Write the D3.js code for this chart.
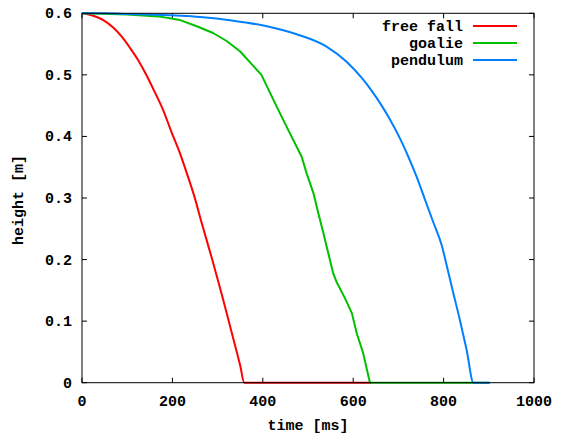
<!DOCTYPE html>
<html><head><meta charset="utf-8">
<script src="https://cdn.jsdelivr.net/npm/d3@7/dist/d3.min.js"></script>
<style>
html,body{margin:0;padding:0;background:#fff;}
text{font-family:"Liberation Mono","DejaVu Sans Mono",monospace;font-weight:bold;font-size:15px;fill:#000;}
</style></head>
<body><svg id="c" width="569" height="435"></svg>
<script>
const seriesNames = ["free fall", "goalie", "pendulum"];
const seriesColors = ["#ff0000", "#00c000", "#0080ff"];
const freeFallT = [0,10,25,47,69,88,106,125,143,161,180,198,217,232,250,265,287,309,331,350,359,640];
const freeFallH = [0.6,0.599,0.596,0.589,0.577,0.562,0.544,0.523,0.499,0.472,0.442,0.407,0.372,0.340,0.299,0.259,0.203,0.144,0.082,0.028,0,0];
const goalieT = [0,100,169,217,254,290,320,350,397,431,460,486,497,512,523,534,545,556,563,582,597,608,622,637,900];
const goalieH = [0.6,0.598,0.595,0.589,0.579,0.568,0.555,0.538,0.500,0.448,0.405,0.367,0.340,0.308,0.275,0.243,0.210,0.177,0.164,0.137,0.113,0.080,0.048,0,0];
const pendulumT = [0,50,100,150,220,261,335,409,475,541,586,619,641,663,681,704,722,740,759,777,796,807,821,836,851,866,903];
const pendulumH = [0.6,0.6,0.599,0.598,0.596,0.594,0.588,0.579,0.566,0.546,0.521,0.495,0.474,0.450,0.428,0.396,0.367,0.335,0.297,0.261,0.223,0.190,0.147,0.102,0.053,0,0];
const xTicks = [0,200,400,600,800,1000];
const yTicks = [0,0.1,0.2,0.3,0.4,0.5,0.6];
const xTickLabels = ["0","200","400","600","800","1000"];
const yTickLabels = ["0","0.1","0.2","0.3","0.4","0.5","0.6"];

const svg = d3.select("#c");
const L=82, R=534, T=13.3, B=382.7;
const x = d3.scaleLinear().domain([0,1000]).range([L,R]);
const y = d3.scaleLinear().domain([0,0.6]).range([B,T]);

const series = [
  freeFallT.map((t,i)=>[t,freeFallH[i]]),
  goalieT.map((t,i)=>[t,goalieH[i]]),
  pendulumT.map((t,i)=>[t,pendulumH[i]])
];
const curves = [d3.curveMonotoneX, d3.curveLinear, d3.curveMonotoneX];

// ticks on all sides (inward)
const tickLen = 5;
const g = svg.append("g");
xTicks.forEach(v=>{
  g.append("line").attr("x1",x(v)).attr("x2",x(v)).attr("y1",B).attr("y2",B-tickLen).attr("stroke","#000");
  g.append("line").attr("x1",x(v)).attr("x2",x(v)).attr("y1",T).attr("y2",T+tickLen).attr("stroke","#000");
});
yTicks.forEach(v=>{
  g.append("line").attr("x1",L).attr("x2",L+tickLen).attr("y1",y(v)).attr("y2",y(v)).attr("stroke","#000");
  g.append("line").attr("x1",R).attr("x2",R-tickLen).attr("y1",y(v)).attr("y2",y(v)).attr("stroke","#000");
});
// tick labels
xTicks.forEach((v,i)=>{
  svg.append("text").attr("x",x(v)).attr("y",406).attr("text-anchor","middle").text(xTickLabels[i]);
});
yTicks.forEach((v,i)=>{
  svg.append("text").attr("x",72).attr("y",y(v)+5).attr("text-anchor","end").text(yTickLabels[i]);
});

// lines
series.forEach((s,i)=>{
  const line = d3.line().x(d=>x(d[0])).y(d=>y(d[1])).curve(curves[i]);
  svg.append("path").datum(s).attr("d",line).attr("fill","none")
    .attr("stroke",seriesColors[i]).attr("stroke-width",2).attr("stroke-linejoin","round");
});

// border
svg.append("rect").attr("x",L).attr("y",T).attr("width",R-L).attr("height",B-T)
  .attr("fill","none").attr("stroke","#000").attr("stroke-width",1);

// legend
seriesNames.forEach((n,i)=>{
  const cy = 26 + i*17;
  svg.append("text").attr("x",463).attr("y",cy+5).attr("text-anchor","end").text(n);
  svg.append("line").attr("x1",473).attr("x2",517).attr("y1",cy).attr("y2",cy)
    .attr("stroke",seriesColors[i]).attr("stroke-width",2);
});

// axis labels
svg.append("text").attr("x",308).attr("y",430).attr("text-anchor","middle").text("time [ms]");
svg.append("text").attr("transform","translate(23,200) rotate(-90)").attr("text-anchor","middle").text("height [m]");
</script></body></html>
